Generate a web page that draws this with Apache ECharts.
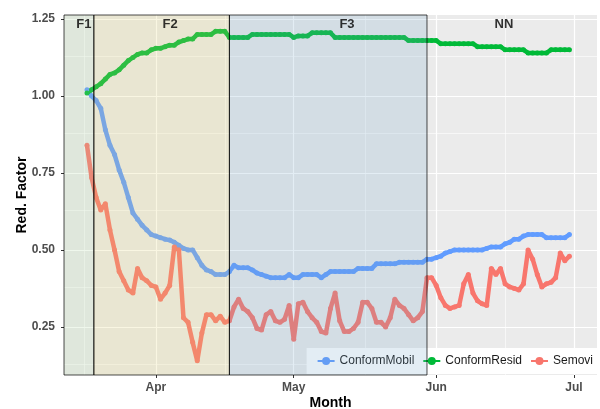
<!DOCTYPE html>
<html>
<head>
<meta charset="utf-8">
<script src="https://cdn.jsdelivr.net/npm/echarts@6/dist/echarts.min.js"></script>
<style>
  html, body { margin: 0; padding: 0; background: #fff; }
  #chart { width: 600px; height: 409px; }
</style>
</head>
<body>
<div id="chart"></div>
<script>
// daily values, first day 2020-03-17
const firstDay = '2020-03-17';
const seriesNames = ['ConformMobil', 'ConformResid', 'Semovi'];
const seriesColors = ['#619CFF', '#00BA38', '#F8766D'];

const conformMobil = [
  1.02, 1.00, 0.985, 0.96, 0.89, 0.84, 0.81, 0.76, 0.72, 0.67,
  0.62, 0.60, 0.58, 0.565, 0.55, 0.545, 0.54, 0.535, 0.532, 0.525,
  0.515, 0.505, 0.50, 0.50, 0.475, 0.45, 0.435, 0.43, 0.42, 0.42,
  0.42, 0.43, 0.45, 0.442, 0.442, 0.442, 0.435, 0.425, 0.42, 0.415,
  0.41, 0.41, 0.41, 0.41, 0.42, 0.41, 0.41, 0.42, 0.42, 0.42,
  0.42, 0.41, 0.42, 0.43, 0.43, 0.43, 0.43, 0.43, 0.43, 0.44,
  0.44, 0.44, 0.44, 0.455, 0.455, 0.455, 0.455, 0.455, 0.46, 0.46,
  0.46, 0.46, 0.46, 0.46, 0.47, 0.47, 0.475, 0.48, 0.49, 0.495,
  0.50, 0.50, 0.50, 0.50, 0.50, 0.50, 0.50, 0.505, 0.51, 0.51,
  0.51, 0.52, 0.525, 0.535, 0.535, 0.545, 0.55, 0.55, 0.55, 0.55,
  0.54, 0.54, 0.54, 0.54, 0.54, 0.55
];
const conformResid = [
  1.01, 1.02, 1.03, 1.04, 1.055, 1.07, 1.075, 1.085, 1.10, 1.115,
  1.125, 1.135, 1.14, 1.14, 1.15, 1.155, 1.155, 1.16, 1.165, 1.165,
  1.175, 1.18, 1.185, 1.185, 1.20, 1.20, 1.20, 1.20, 1.21, 1.21,
  1.21, 1.19, 1.19, 1.19, 1.19, 1.19, 1.20, 1.20, 1.20, 1.20,
  1.20, 1.20, 1.20, 1.20, 1.20, 1.19, 1.195, 1.195, 1.195, 1.205,
  1.205, 1.205, 1.205, 1.205, 1.19, 1.19, 1.19, 1.19, 1.19, 1.19,
  1.19, 1.19, 1.19, 1.19, 1.19, 1.19, 1.19, 1.19, 1.19, 1.19,
  1.18, 1.18, 1.18, 1.18, 1.18, 1.18, 1.18, 1.17, 1.17, 1.17,
  1.17, 1.17, 1.17, 1.17, 1.17, 1.16, 1.16, 1.16, 1.16, 1.16,
  1.16, 1.15, 1.15, 1.15, 1.15, 1.15, 1.14, 1.14, 1.14, 1.14,
  1.14, 1.15, 1.15, 1.15, 1.15, 1.15
];
const semovi = [
  0.84, 0.735, 0.67, 0.63, 0.65, 0.565, 0.50, 0.43, 0.40, 0.37,
  0.36, 0.44, 0.41, 0.40, 0.385, 0.38, 0.34, 0.36, 0.385, 0.51,
  0.50, 0.28, 0.265, 0.20, 0.14, 0.23, 0.29, 0.29, 0.27, 0.285,
  0.265, 0.27, 0.315, 0.34, 0.31, 0.30, 0.28, 0.245, 0.24, 0.29,
  0.30, 0.27, 0.265, 0.275, 0.32, 0.21, 0.325, 0.33, 0.30, 0.28,
  0.265, 0.235, 0.23, 0.31, 0.36, 0.27, 0.235, 0.235, 0.245, 0.265,
  0.33, 0.33, 0.31, 0.265, 0.265, 0.25, 0.28, 0.34, 0.32, 0.31,
  0.29, 0.27, 0.28, 0.30, 0.41, 0.41, 0.385, 0.345, 0.32, 0.31,
  0.315, 0.32, 0.39, 0.42, 0.36, 0.335, 0.325, 0.32, 0.44, 0.42,
  0.44, 0.39, 0.38, 0.375, 0.37, 0.39, 0.50, 0.47, 0.42, 0.38,
  0.39, 0.395, 0.41, 0.49, 0.465, 0.48
];

const monthTicks = ['2020-04-01', '2020-05-01', '2020-06-01', '2020-07-01'];
const monthLabels = ['Apr', 'May', 'Jun', 'Jul'];
const monthMinor = ['2020-03-16 12:00', '2020-04-16 00:00', '2020-05-16 12:00', '2020-06-16 00:00'];
const yTicks = [0.25, 0.50, 0.75, 1.00, 1.25];
const yMinor = [0.125, 0.375, 0.625, 0.875, 1.125];

const phaseNames = ['F1', 'F2', 'F3', 'NN'];
const phaseBreaks = ['2020-03-12 00:00', '2020-03-18 12:00', '2020-04-17 00:00', '2020-05-30 00:00', '2020-07-06 00:00'];
const phaseLabelAt = ['2020-03-16 08:00', '2020-04-04 02:00', '2020-05-12 14:00', '2020-06-15 18:00'];
const phaseFills = ['rgba(175,215,160,0.2)', 'rgba(225,210,110,0.2)', 'rgba(115,165,200,0.2)', null];

// x positions are days counted from the first phase break (axis start)
function toDay(s) {
  const [d, h] = s.split(' ');
  const [y, m, dd] = d.split('-').map(Number);
  const [hh, mm] = (h || '00:00').split(':').map(Number);
  return (Date.UTC(y, m - 1, dd, hh, mm) - Date.UTC(2020, 2, 12)) / 86400000;
}

const startDay = toDay(firstDay);
const values = [conformMobil, conformResid, semovi];
const tickDays = monthTicks.map(toDay);

const font = 'Liberation Sans, Arial, sans-serif';
const yMin = 0.094, yMax = 1.263;

const mainSeries = seriesNames.map((name, k) => ({
  name: name,
  type: 'line',
  data: values[k].map((v, i) => [startDay + i, v]),
  symbol: 'circle',
  symbolSize: 5,
  showSymbol: true,
  lineStyle: { width: 4.5, color: seriesColors[k] },
  itemStyle: { color: seriesColors[k] },
  z: 2
}));

const areas = [];
for (let i = 0; i < phaseNames.length; i++) {
  if (!phaseFills[i]) continue;
  areas.push([
    { xAxis: toDay(phaseBreaks[i]), itemStyle: { color: phaseFills[i] } },
    { xAxis: toDay(phaseBreaks[i + 1]) }
  ]);
}

const chart = echarts.init(document.getElementById('chart'));
chart.setOption({
  animation: false,
  grid: {
    left: 64, right: 3, top: 15, bottom: 34,
    outerBoundsMode: 'none',
    containLabel: false,
    show: true, backgroundColor: '#EBEBEB', borderWidth: 0
  },
  legend: {
    data: seriesNames,
    right: 3,
    bottom: 35,
    orient: 'horizontal',
    backgroundColor: '#ffffff',
    padding: [7, 4, 7, 10],
    itemGap: 8,
    itemWidth: 17,
    itemHeight: 10,
    textStyle: { fontSize: 12, color: '#1a1a1a', fontFamily: font },
    z: 4
  },
  xAxis: {
    type: 'value',
    min: toDay(phaseBreaks[0]),
    max: toDay(phaseBreaks[phaseBreaks.length - 1]),
    name: 'Month',
    nameLocation: 'middle',
    nameGap: 21,
    nameMoveOverlap: false,
    nameTextStyle: { fontSize: 14, fontWeight: 'bold', color: '#000', fontFamily: font },
    axisLine: { show: false },
    axisTick: { show: true, length: 3, lineStyle: { color: '#333' }, customValues: tickDays },
    axisLabel: {
      customValues: tickDays,
      formatter: v => monthLabels[tickDays.indexOf(v)] || '',
      fontSize: 12, fontWeight: 'bold', color: '#4D4D4D', margin: 7, fontFamily: font
    },
    splitLine: { show: true, lineStyle: { color: '#ffffff', width: 1.2 } }
  },
  yAxis: {
    type: 'value',
    min: yMin,
    max: yMax,
    name: 'Red. Factor',
    nameLocation: 'middle',
    nameGap: 35,
    nameMoveOverlap: false,
    nameTextStyle: { fontSize: 14, fontWeight: 'bold', color: '#000', fontFamily: font },
    axisLine: { show: false },
    axisTick: { show: true, length: 3, lineStyle: { color: '#333' }, customValues: yTicks },
    axisLabel: {
      customValues: yTicks,
      formatter: v => v.toFixed(2),
      fontSize: 12, fontWeight: 'bold', color: '#4D4D4D', margin: 9, fontFamily: font
    },
    splitLine: { show: true, lineStyle: { color: '#ffffff', width: 1.2 } }
  },
  series: [
    {
      // minor grid lines
      type: 'line',
      data: [],
      silent: true,
      markLine: {
        z: 1,
        silent: true,
        symbol: ['none', 'none'],
        label: { show: false },
        lineStyle: { color: '#ffffff', width: 0.6, type: 'solid' },
        data: monthMinor.map(t => ({ xAxis: toDay(t) })).concat(yMinor.map(v => ({ yAxis: v })))
      }
    },
    ...mainSeries,
    {
      // phase shading, drawn over the lines
      type: 'line',
      data: [],
      silent: true,
      z: 10,
      markArea: {
        z: 10,
        silent: true,
        itemStyle: { borderColor: 'rgba(0,0,0,0.7)', borderWidth: 1 },
        data: areas
      }
    },
    {
      type: 'scatter',
      z: 12,
      silent: true,
      symbolSize: 0,
      data: phaseLabelAt.map((t, i) => ({ name: phaseNames[i], value: [toDay(t), 1.234] })),
      label: {
        show: true, position: 'inside', formatter: '{b}',
        fontSize: 13, fontWeight: 'bold', color: '#000', fontFamily: font
      }
    }
  ]
});
</script>
</body>
</html>
